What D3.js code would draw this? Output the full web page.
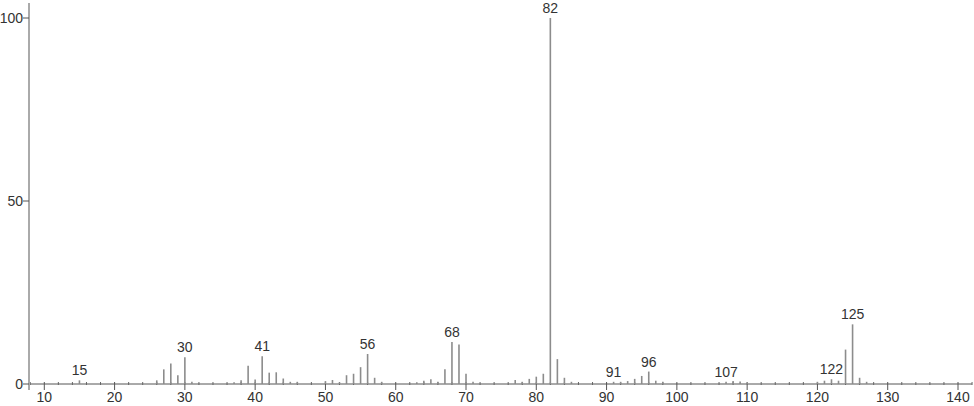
<!DOCTYPE html>
<html>
<head>
<meta charset="utf-8">
<script src="https://cdn.jsdelivr.net/npm/d3@7"></script>
<style>
  body { margin: 0; background: #fff; }
  text { font-family: "Liberation Sans", sans-serif; fill: #333; }
</style>
</head>
<body>
<div id="chart"></div>
<script>
const width = 974,
  height = 406;

// m/z values and relative intensities
const mz = [15, 26, 27, 28, 29, 30, 31, 37, 38, 39, 40, 41, 42, 43, 44, 45, 46,
  50, 51, 52, 53, 54, 55, 56, 57, 58, 63, 64, 65, 66, 67, 68, 69, 70, 71,
  77, 78, 79, 80, 81, 82, 83, 84, 85, 91, 92, 93, 94, 95, 96, 97, 98,
  107, 108, 109, 110, 120, 121, 122, 123, 124, 125, 126, 127];
const intensity = [1, 1, 4, 5.6, 2.4, 7.3, 0.6, 0.5, 1, 5, 1.2, 7.6, 3.1, 3.2, 1.5, 0.6, 0.6,
  0.8, 1.1, 0.5, 2.4, 2.8, 4.6, 8.2, 1.7, 0.6, 0.5, 0.9, 1.3, 0.6, 4, 11.5, 10.8, 2.8, 0.6,
  1.1, 0.6, 1.4, 2, 2.8, 100, 6.8, 1.7, 0.6, 0.6, 0.6, 0.8, 1.4, 2.2, 3.4, 0.9, 0.6,
  0.6, 0.8, 0.7, 0.4, 0.6, 0.9, 1.3, 0.9, 9.4, 16.3, 1.7, 0.6];
const labelled = [15, 30, 41, 56, 68, 82, 91, 96, 107, 122, 125];
const xTicks = [10, 20, 30, 40, 50, 60, 70, 80, 90, 100, 110, 120, 130, 140];
const yTicks = [0, 50, 100];

const svg = d3.select("#chart")
  .append("svg")
  .attr("width", width)
  .attr("height", height);

const x = d3.scaleLinear().domain([10, 140]).range([44.3, 958]);
const y = d3.scaleLinear().domain([0, 100]).range([384, 18]);

// bottom axis
const xAxisG = svg.append("g").attr("transform", `translate(0,${y(0)})`);
xAxisG.append("line")
  .attr("x1", 29).attr("x2", 972)
  .attr("stroke", "#555").attr("stroke-width", 1);

const minor = d3.range(8, 143, 2).filter(d => d % 10 !== 0);
xAxisG.selectAll(".minor")
  .data(minor)
  .join("line")
  .attr("x1", d => x(d)).attr("x2", d => x(d))
  .attr("y1", -2).attr("y2", 1)
  .attr("stroke", "#666");

xAxisG.selectAll(".major")
  .data(xTicks)
  .join("line")
  .attr("x1", d => x(d)).attr("x2", d => x(d))
  .attr("y1", -2).attr("y2", 6)
  .attr("stroke", "#555");

xAxisG.selectAll(".xlab")
  .data(xTicks)
  .join("text")
  .attr("x", d => x(d))
  .attr("y", 18)
  .attr("text-anchor", "middle")
  .attr("font-size", 14)
  .text(d => d);

// left axis
svg.append("line")
  .attr("x1", 29).attr("x2", 29)
  .attr("y1", 3).attr("y2", 390)
  .attr("stroke", "#aaa").attr("stroke-width", 2);

svg.selectAll(".ytick")
  .data(yTicks)
  .join("line")
  .attr("x1", 23).attr("x2", 29)
  .attr("y1", d => y(d)).attr("y2", d => y(d))
  .attr("stroke", "#555");

svg.selectAll(".ylab")
  .data(yTicks)
  .join("text")
  .attr("x", 23)
  .attr("y", d => y(d) + 5)
  .attr("text-anchor", "end")
  .attr("font-size", 14)
  .text(d => d);

// peaks
const peaks = mz.map((m, i) => ({ mz: m, v: intensity[i] }));

svg.selectAll(".peak")
  .data(peaks)
  .join("line")
  .attr("x1", d => x(d.mz)).attr("x2", d => x(d.mz))
  .attr("y1", y(0)).attr("y2", d => y(d.v))
  .attr("stroke", "#8c8c8c")
  .attr("stroke-width", 1.6);

svg.selectAll(".plab")
  .data(peaks.filter(d => labelled.includes(d.mz)))
  .join("text")
  .attr("x", d => x(d.mz))
  .attr("y", d => y(d.v) - 5)
  .attr("text-anchor", "middle")
  .attr("font-size", 14)
  .text(d => d.mz);
</script>
</body>
</html>
